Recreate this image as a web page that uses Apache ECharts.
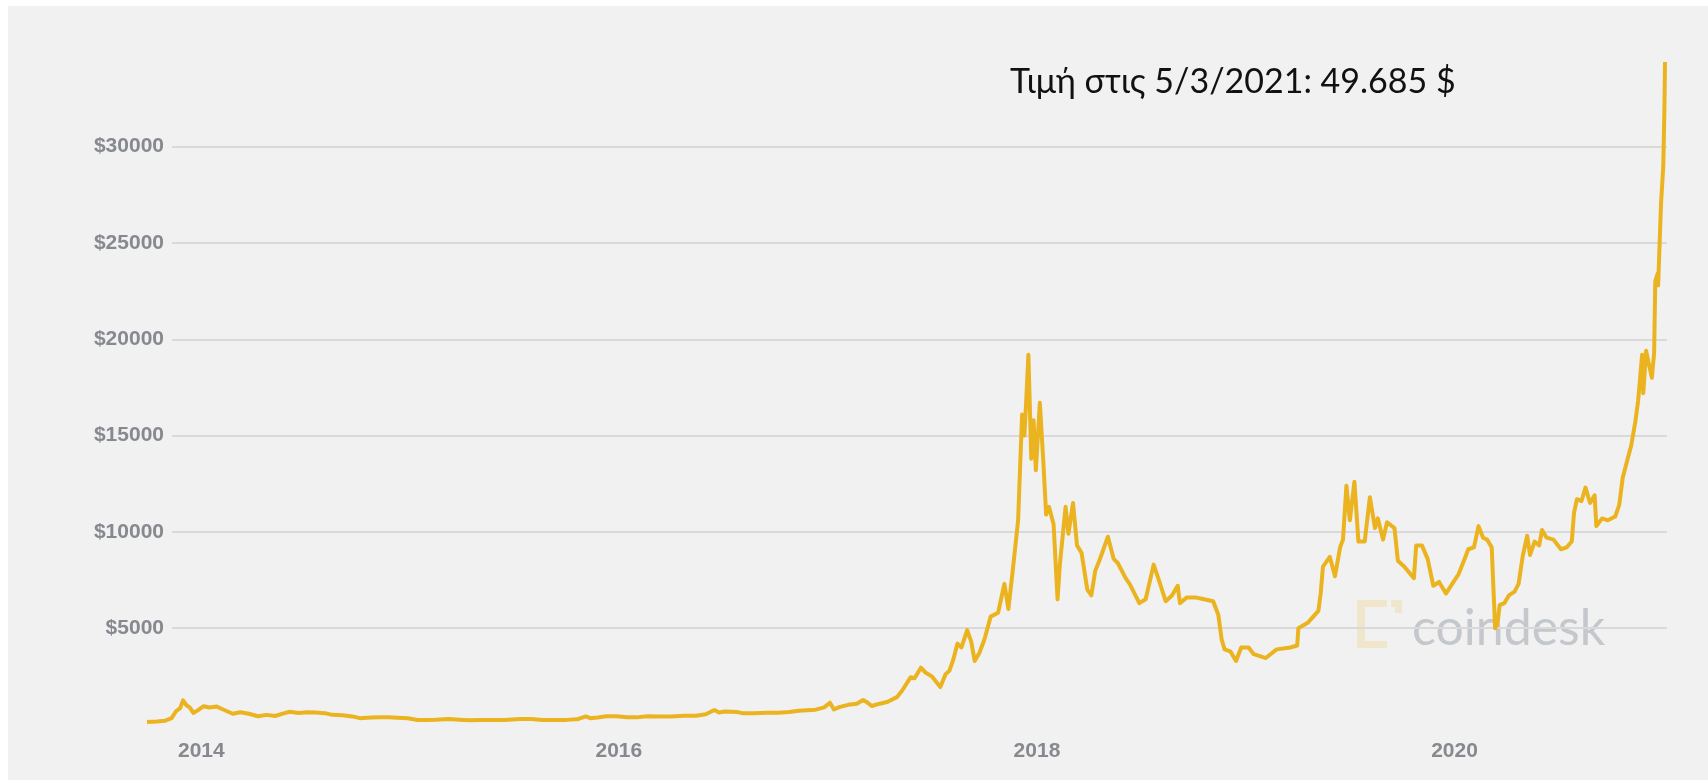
<!DOCTYPE html>
<html>
<head>
<meta charset="utf-8">
<script src="https://cdn.jsdelivr.net/npm/echarts@6/dist/echarts.min.js"></script>
<style>
  html, body { margin: 0; padding: 0; background: #ffffff; }
  #chart { position: absolute; left: 8px; top: 6px; width: 1700px; height: 774px; }
</style>
</head>
<body>
<div id="chart"></div>
<script>
// Bitcoin price (USD), Oct 2013 – Jan 2021
const dates = [
  '2013-09-28','2013-10-15','2013-10-30','2013-11-10','2013-11-18','2013-11-25','2013-11-30',
  '2013-12-06','2013-12-12','2013-12-18','2013-12-25','2014-01-05','2014-01-15','2014-01-28',
  '2014-02-08','2014-02-25','2014-03-10','2014-03-25','2014-04-10','2014-04-25','2014-05-10',
  '2014-05-25','2014-06-05','2014-06-20','2014-07-05','2014-07-20','2014-08-05','2014-08-18',
  '2014-09-05','2014-09-22','2014-10-05','2014-10-25','2014-11-10','2014-11-25','2014-12-10',
  '2014-12-28','2015-01-14','2015-01-28','2015-02-15','2015-03-10','2015-03-28','2015-04-15',
  '2015-05-05','2015-05-25','2015-06-15','2015-07-05','2015-07-15','2015-08-01','2015-08-20',
  '2015-09-10','2015-10-01','2015-10-20','2015-11-04','2015-11-12','2015-11-25','2015-12-10',
  '2015-12-28','2016-01-15','2016-02-01','2016-02-20','2016-03-10','2016-04-01','2016-04-25',
  '2016-05-15','2016-06-01','2016-06-16','2016-06-24','2016-07-05','2016-07-25','2016-08-05',
  '2016-08-25','2016-09-15','2016-10-05','2016-10-25','2016-11-10','2016-11-25','2016-12-10',
  '2016-12-25','2017-01-04','2017-01-11','2017-01-20','2017-02-05','2017-02-20','2017-03-03',
  '2017-03-10','2017-03-18','2017-04-01','2017-04-15','2017-05-01','2017-05-10','2017-05-25',
  '2017-06-01','2017-06-12','2017-06-20','2017-07-01','2017-07-16','2017-07-25','2017-08-01',
  '2017-08-08','2017-08-15','2017-08-22','2017-09-01','2017-09-08','2017-09-14','2017-09-22',
  '2017-10-01','2017-10-12','2017-10-25','2017-11-05','2017-11-12','2017-11-20','2017-11-29',
  '2017-12-06','2017-12-10','2017-12-13','2017-12-17','2017-12-22','2017-12-26','2017-12-30',
  '2018-01-06','2018-01-12','2018-01-17','2018-01-22','2018-01-30','2018-02-06','2018-02-10',
  '2018-02-20','2018-02-25','2018-03-05','2018-03-12','2018-03-20','2018-03-30','2018-04-06',
  '2018-04-13','2018-04-20','2018-05-05','2018-05-15','2018-05-22','2018-06-05','2018-06-12',
  '2018-06-29','2018-07-10','2018-07-24','2018-08-01','2018-08-14','2018-08-25','2018-09-04',
  '2018-09-08','2018-09-20','2018-10-05','2018-10-20','2018-11-05','2018-11-14','2018-11-20',
  '2018-11-25','2018-12-05','2018-12-15','2018-12-24','2019-01-06','2019-01-15','2019-02-05',
  '2019-02-24','2019-03-20','2019-04-01','2019-04-03','2019-04-20','2019-05-08','2019-05-12',
  '2019-05-16','2019-05-28','2019-06-06','2019-06-15','2019-06-20','2019-06-26','2019-07-02',
  '2019-07-10','2019-07-17','2019-07-28','2019-08-06','2019-08-15','2019-08-20','2019-08-29',
  '2019-09-05','2019-09-18','2019-09-24','2019-10-05','2019-10-22','2019-10-26','2019-11-05',
  '2019-11-15','2019-11-25','2019-12-05','2019-12-17','2019-12-28','2020-01-08','2020-01-20',
  '2020-01-25','2020-02-04','2020-02-12','2020-02-20','2020-02-27','2020-03-06','2020-03-12',
  '2020-03-16','2020-03-20','2020-03-28','2020-04-05','2020-04-15','2020-04-22','2020-04-29',
  '2020-05-07','2020-05-12','2020-05-20','2020-05-28','2020-06-02','2020-06-10','2020-06-22',
  '2020-07-05','2020-07-15','2020-07-24','2020-07-28','2020-08-02','2020-08-10','2020-08-17',
  '2020-08-25','2020-09-02','2020-09-05','2020-09-15','2020-09-25','2020-10-08','2020-10-15',
  '2020-10-21','2020-10-28','2020-11-05','2020-11-12','2020-11-17','2020-11-24','2020-11-26',
  '2020-12-01','2020-12-11','2020-12-15','2020-12-17','2020-12-21','2020-12-22','2020-12-27',
  '2020-12-31','2021-01-02','2021-01-03'
];

const prices = [
  130, 160, 200, 330, 700, 850, 1250,
  1000, 880, 600, 720, 950, 880, 930,
  780, 560, 640, 560, 430, 500, 440,
  580, 660, 600, 630, 620, 590, 500,
  480, 420, 330, 360, 370, 380, 350,
  320, 230, 240, 250, 280, 250, 225,
  235, 240, 240, 270, 290, 280, 230,
  240, 240, 270, 420, 330, 360, 430,
  430, 380, 370, 430, 415, 420, 460,
  455, 530, 750, 620, 670, 655, 580,
  580, 610, 610, 650, 710, 740, 770,
  890, 1130, 780, 900, 1020, 1080, 1270,
  1150, 960, 1080, 1180, 1420, 1750, 2450,
  2400, 2950, 2700, 2500, 1950, 2600, 2800,
  3400, 4200, 4000, 4900, 4300, 3300, 3700,
  4400, 5600, 5800, 7300, 6000, 8100, 10600,
  16100, 15000, 16700, 19200, 13800, 15800, 13200,
  16700, 13700, 10900, 11300, 10400, 6500, 8300,
  11300, 9900, 11500, 9300, 8900, 7000, 6700,
  8000, 8500, 9750, 8600, 8400, 7600, 7300,
  6300, 6500, 8300, 7600, 6400, 6700, 7200,
  6300, 6600, 6600, 6500, 6400, 5700, 4400,
  3900, 3800, 3300, 4000, 4000, 3650, 3450,
  3900, 4000, 4100, 5000, 5300, 5900, 6800,
  8200, 8700, 7700, 9200, 9600, 12400, 10600,
  12600, 9500, 9500, 11800, 10200, 10700, 9600,
  10500, 10200, 8500, 8200, 7600, 9300, 9300,
  8600, 7200, 7400, 6800, 7300, 7800, 8700,
  9100, 9200, 10300, 9700, 9600, 9200, 5000,
  5200, 6200, 6300, 6700, 6900, 7300, 8700,
  9800, 8800, 9500, 9300, 10100, 9700, 9600,
  9100, 9200, 9500, 11000, 11700, 11600, 12300,
  11500, 11900, 10300, 10700, 10600, 10800, 11400,
  12800, 13600, 14500, 15700, 16800, 19200, 17200,
  19400, 18000, 19300, 23000, 23400, 22800, 27000,
  29000, 32000, 34400
];

// Years labelled on the time axis
const yearTicks = [2014, 2016, 2018, 2020];

// Price axis range and step
const priceMin = 0;
const priceMax = 35000;
const priceStep = 5000;

const noteText = 'Τιμή στις 5/3/2021: 49.685 $';
const brandText = 'coindesk';

function toTime(s) {
  const p = s.split('-').map(Number);
  return new Date(p[0], p[1] - 1, p[2]).getTime();
}

const seriesData = dates.map((d, i) => [toTime(d), prices[i]]);

const chart = echarts.init(document.getElementById('chart'), null, { renderer: 'canvas' });

const labelColor = '#86898e';
const labelFont = '"Liberation Sans", Arial, sans-serif';
const logoColor = '#f0e6cc';

chart.setOption({
  backgroundColor: '#f1f1f1',
  animation: false,
  grid: [
    // plotting area of the price line
    { left: 139, right: 43, top: 44.4, bottom: 55.5, containLabel: false },
    // price scale with its guide lines, starting right of the labels
    { left: 164, right: 41, top: 44.4, bottom: 55.5, containLabel: false }
  ],
  xAxis: [{
    type: 'time',
    gridIndex: 0,
    min: toTime(dates[0]),
    max: toTime(dates[dates.length - 1]),
    splitNumber: 8,
    axisLine: { show: false },
    axisTick: { show: false },
    splitLine: { show: false },
    axisLabel: {
      hideOverlap: false,
      showMinLabel: false,
      showMaxLabel: false,
      formatter: function (v) {
        const d = new Date(v);
        const y = d.getFullYear();
        return (d.getMonth() === 0 && d.getDate() === 1 && yearTicks.indexOf(y) >= 0) ? String(y) : '';
      },
      color: labelColor,
      fontFamily: labelFont,
      fontSize: 21,
      fontWeight: 'bold',
      margin: 16
    }
  }, {
    type: 'value',
    gridIndex: 1,
    show: false
  }],
  yAxis: [{
    type: 'value',
    gridIndex: 0,
    min: priceMin,
    max: priceMax,
    show: false,
    splitLine: { show: false }
  }, {
    type: 'value',
    gridIndex: 1,
    min: priceMin,
    max: priceMax,
    interval: priceStep,
    axisLine: { show: false },
    axisTick: { show: false },
    splitLine: {
      show: true,
      showMinLine: false,
      showMaxLine: false,
      lineStyle: { color: '#d9d9d9', width: 2 }
    },
    axisLabel: {
      showMinLabel: false,
      showMaxLabel: false,
      formatter: (v) => (v > priceMin && v < priceMax) ? '$' + v : '',
      color: labelColor,
      fontFamily: labelFont,
      fontSize: 21,
      fontWeight: 'bold',
      margin: 8
    }
  }],
  graphic: [
    // coindesk mark
    { type: 'rect', shape: { x: 1349, y: 594, width: 8, height: 48 }, style: { fill: logoColor } },
    { type: 'rect', shape: { x: 1349, y: 594, width: 30, height: 7 }, style: { fill: logoColor } },
    { type: 'rect', shape: { x: 1349, y: 635, width: 30, height: 7 }, style: { fill: logoColor } },
    { type: 'rect', shape: { x: 1383, y: 594, width: 11, height: 7 }, style: { fill: logoColor } },
    { type: 'rect', shape: { x: 1387, y: 598, width: 7, height: 9 }, style: { fill: logoColor } },
    {
      type: 'text',
      x: 1404, y: 623,
      style: {
        text: brandText,
        fill: '#c4c7cc',
        font: '50px Lato, "Open Sans", sans-serif',
        align: 'left',
        verticalAlign: 'middle'
      }
    },
    {
      type: 'text',
      x: 1002, y: 76,
      z: 10,
      style: {
        text: noteText,
        fill: '#111111',
        font: '34px Lato, "Open Sans", "Noto Sans", sans-serif',
        align: 'left',
        verticalAlign: 'middle'
      }
    }
  ],
  series: [{
    type: 'line',
    xAxisIndex: 0,
    yAxisIndex: 0,
    data: seriesData,
    showSymbol: false,
    smooth: false,
    z: 5,
    lineStyle: { color: '#ebb31f', width: 4, join: 'round' },
    emphasis: { disabled: true }
  }]
});
</script>
</body>
</html>
